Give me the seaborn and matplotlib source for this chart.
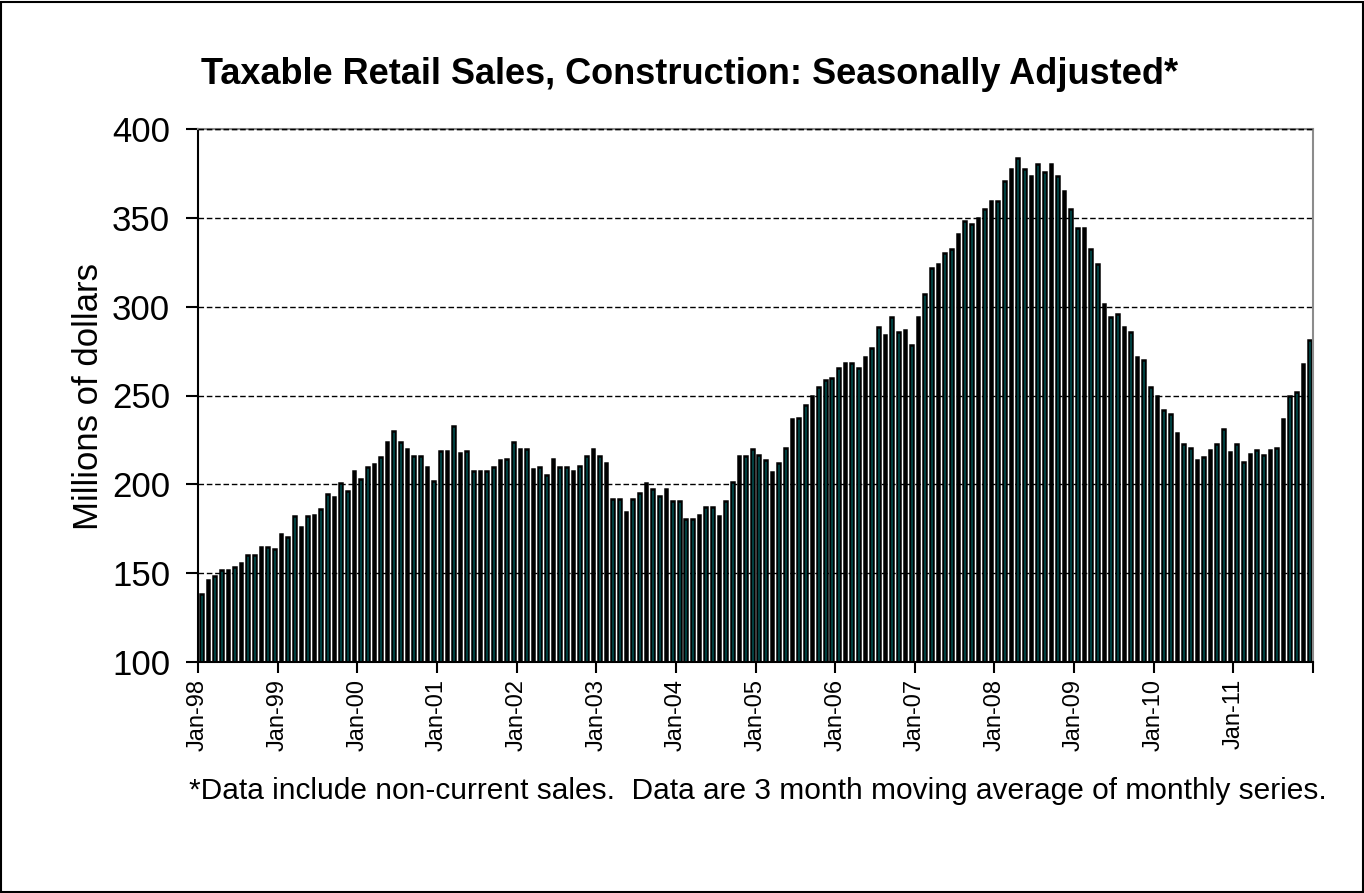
import numpy as np
import pandas as pd
import matplotlib
matplotlib.use("Agg")
import matplotlib.pyplot as plt
import seaborn as sns
from matplotlib.patches import Rectangle


# monthly values, Jan-98 .. Dec-11 (millions of dollars)
sales_1998 = [138, 146, 148.5, 152, 152, 153.5, 156, 160.5, 160.5, 165, 165, 163.5]
sales_1999 = [172, 170.5, 182, 176, 182, 183, 186, 194.5, 193, 200.5, 196, 207.5]
sales_2000 = [203, 210, 211.5, 215.5, 224, 230, 224, 220, 216, 216, 210, 202]
sales_2001 = [218.5, 218.5, 233, 217.5, 218.5, 207.5, 207.5, 207.5, 210, 213.5, 214.5, 224]
sales_2002 = [220, 220, 208.5, 210, 205.5, 214.5, 210, 210, 207.5, 210.5, 216, 220]
sales_2003 = [216, 212, 192, 192, 184.5, 192, 195, 200.5, 197.5, 193.5, 197.5, 190.5]
sales_2004 = [190.5, 180.5, 180.5, 183, 187.5, 187.5, 182, 190.5, 201.5, 216, 216, 220]
sales_2005 = [216.5, 213.5, 207, 212, 220.5, 236.5, 237.5, 244.5, 249.5, 255, 258.5, 260]
sales_2006 = [265.5, 268.5, 268.5, 265.5, 271.5, 277, 288.5, 284, 294, 285.5, 287, 278.5]
sales_2007 = [294, 307, 322, 324, 330, 332.5, 341, 348, 346.5, 350, 355, 359.5]
sales_2008 = [359.5, 370.5, 377.5, 383.5, 377.5, 373.5, 380.5, 376, 380.5, 373.5, 365, 355]
sales_2009 = [344, 344, 332.5, 324, 301.5, 294, 296, 288.5, 285.5, 271.5, 270, 255]
sales_2010 = [249.5, 242, 239.5, 229, 222.5, 220.5, 213.5, 215.5, 219.5, 222.5, 231, 218]
sales_2011 = [222.5, 212.5, 217, 219.5, 216.5, 219.5, 220.5, 236.5, 249.5, 252, 267.5, 281.5]

years = list(range(1998, 2012))
month_names = ["Jan", "Feb", "Mar", "Apr", "May", "Jun",
               "Jul", "Aug", "Sep", "Oct", "Nov", "Dec"]

sales = (sales_1998 + sales_1999 + sales_2000 + sales_2001 + sales_2002 +
         sales_2003 + sales_2004 + sales_2005 + sales_2006 + sales_2007 +
         sales_2008 + sales_2009 + sales_2010 + sales_2011)
months = [f"{m}-{y % 100:02d}" for y in years for m in month_names]

df = pd.DataFrame({"month": months, "sales": sales})

sns.set_style("white")
plt.rcParams["font.family"] = ["Liberation Sans", "DejaVu Sans"]
plt.rcParams["text.color"] = "black"
plt.rcParams["xtick.color"] = "black"
plt.rcParams["ytick.color"] = "black"

fig = plt.figure(figsize=(13.64, 8.93), dpi=100)
ax = fig.add_axes([198 / 1364, 1 - 662 / 893, (1313 - 198) / 1364, (662 - 129) / 893])

sns.barplot(data=df, x="month", y="sales", color="#00FFFF", saturation=1,
            edgecolor="black", linewidth=1.8, width=0.40, errorbar=None, ax=ax)

ax.set_xlim(-0.5, len(months) - 0.5)
ax.set_ylim(100, 400)
ax.set_yticks(np.arange(100, 401, 50))

jan_pos = [i * 12 - 0.5 for i in range(len(years) + 1)]
ax.set_xticks(jan_pos)
ax.set_xticklabels([f"Jan-{y % 100:02d}" for y in years] + [""], rotation=90)

ax.yaxis.grid(True, linestyle=(0, (4, 2)), color="black", linewidth=1)
ax.set_axisbelow(True)

for s in ["top", "right"]:
    ax.spines[s].set_color("#8c8c8c")
    ax.spines[s].set_linewidth(1.5)
for s in ["left", "bottom"]:
    ax.spines[s].set_color("black")
    ax.spines[s].set_linewidth(1.5)
ax.axhline(400, linestyle=(0, (4, 2)), color="black", linewidth=1, zorder=3, clip_on=False)

ax.tick_params(axis="y", direction="out", length=9, width=1.5, labelsize=25, pad=11, left=True)
ax.tick_params(axis="x", direction="out", length=8, width=1.5, labelsize=17, pad=4, bottom=True)
ax.set_xlabel("")
ax.set_ylabel("")

fig.text(88 / 1364, 1 - 396 / 893, "Millions of dollars", rotation=90,
         ha="center", va="center", fontsize=25)
fig.text(690 / 1364, 1 - 75 / 893, "Taxable Retail Sales, Construction: Seasonally Adjusted*",
         ha="center", va="center", fontsize=26, fontweight="bold")
fig.text(758 / 1364, 1 - 791 / 893,
         "*Data include non-current sales.  Data are 3 month moving average of monthly series.",
         ha="center", va="center", fontsize=21.5)

fig.patches.append(Rectangle((0.001, 0.001), 0.998, 0.997, transform=fig.transFigure,
                             fill=False, edgecolor="black", linewidth=1.5))

fig.savefig("out.png", dpi=100)
